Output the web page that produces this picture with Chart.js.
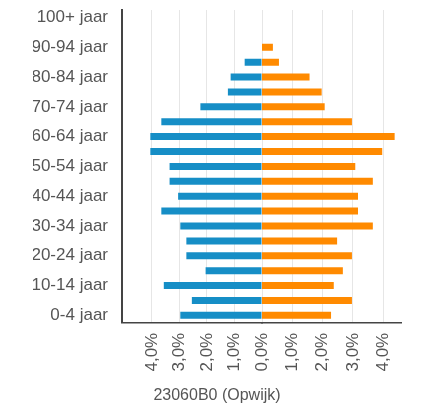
<!DOCTYPE html>
<html>
<head>
<meta charset="utf-8">
<script src="https://cdn.jsdelivr.net/npm/chart.js@4/dist/chart.umd.min.js"></script>
<style>
  html, body { margin: 0; padding: 0; background: #fff; }
  #wrap { width: 425px; height: 409px; }
</style>
</head>
<body>
<div id="wrap"><canvas id="pyramid"></canvas></div>
<script>
// Age groups, youngest first (y axis is reversed so 0-4 sits at the bottom)
const ageGroups = [
  '0-4 jaar', '5-9 jaar', '10-14 jaar', '15-19 jaar', '20-24 jaar',
  '25-29 jaar', '30-34 jaar', '35-39 jaar', '40-44 jaar', '45-49 jaar',
  '50-54 jaar', '55-59 jaar', '60-64 jaar', '65-69 jaar', '70-74 jaar',
  '75-79 jaar', '80-84 jaar', '85-89 jaar', '90-94 jaar', '95-99 jaar', '100+ jaar'
];

// Share of total population (%) per age group
const menShare = [
  2.97, 2.55, 3.57, 2.05, 2.75, 2.75, 2.97, 3.66, 3.05, 3.36,
  3.36, 4.06, 4.06, 3.66, 2.24, 1.24, 1.14, 0.63, 0, 0, 0
];
const womenShare = [
  2.28, 2.97, 2.37, 2.67, 2.97, 2.48, 3.66, 3.17, 3.17, 3.66,
  3.08, 3.97, 4.38, 2.97, 2.07, 1.97, 1.57, 0.56, 0.36, 0, 0
];

const menTicks = [0, 1, 2, 3, 4];
const womenTicks = [1, 2, 3, 4];
const chartTitle = '23060B0 (Opwijk)';

const textColor = '#555';
const fontFamily = '"Liberation Sans", Arial, sans-serif';

const pct = v => v.toFixed(1).replace('.', ',') + '%';

// two x axes side by side: left one reversed for men, right one for women
function halfAxis(ticksWanted, max, weight, reverse) {
  return {
    type: 'linear',
    position: 'bottom',
    stack: 'pyramid',
    stackWeight: weight,
    reverse: reverse,
    min: 0,
    max: max,
    afterBuildTicks: s => {
      s.ticks = ticksWanted.map(v => ({ value: v }));
    },
    afterFit: s => { s.height = 63; },
    grid: { color: '#e6e6e6', drawTicks: false },
    border: { color: '#444', width: 1.5 },
    ticks: {
      autoSkip: false,
      callback: v => pct(v),
      minRotation: 90,
      maxRotation: 90,
      padding: 10,
      color: textColor,
      font: { family: fontFamily, size: 17 }
    }
  };
}

new Chart(document.getElementById('pyramid'), {
  type: 'bar',
  data: {
    labels: ageGroups,
    datasets: [
      {
        label: 'Mannen',
        data: menShare,
        xAxisID: 'xm',
        backgroundColor: '#168ec6',
        barThickness: 7,
        inflateAmount: 0,
        grouped: false
      },
      {
        label: 'Vrouwen',
        data: womenShare,
        xAxisID: 'xf',
        backgroundColor: '#ff8a00',
        barThickness: 7,
        inflateAmount: 0,
        grouped: false
      }
    ]
  },
  options: {
    indexAxis: 'y',
    responsive: true,
    maintainAspectRatio: false,
    animation: false,
    layout: { padding: { left: 33, right: 24, top: 10, bottom: 0 } },
    plugins: {
      legend: { display: false },
      tooltip: { enabled: false },
      title: {
        display: true,
        position: 'bottom',
        text: chartTitle,
        color: textColor,
        font: { family: fontFamily, size: 16, weight: 'normal' },
        padding: { top: 0, bottom: 4 }
      }
    },
    scales: {
      xm: halfAxis(menTicks, 5.09, 140, true),
      xf: halfAxis(womenTicks, 4.59, 139, false),
      y: {
        reverse: true,
        afterFit: s => {
          s.width = 89;
          // don't let the label padding push the plot area down
          s.paddingTop = 0;
          s.paddingBottom = 0;
        },
        grid: { display: false, drawTicks: false },
        border: { color: '#444', width: 2 },
        ticks: {
          autoSkip: false,
          padding: 14,
          color: textColor,
          font: { family: fontFamily, size: 17 },
          callback: function (v, i) {
            return i % 2 === 0 ? this.getLabelForValue(v) : '';
          }
        }
      }
    }
  }
});
</script>
</body>
</html>
